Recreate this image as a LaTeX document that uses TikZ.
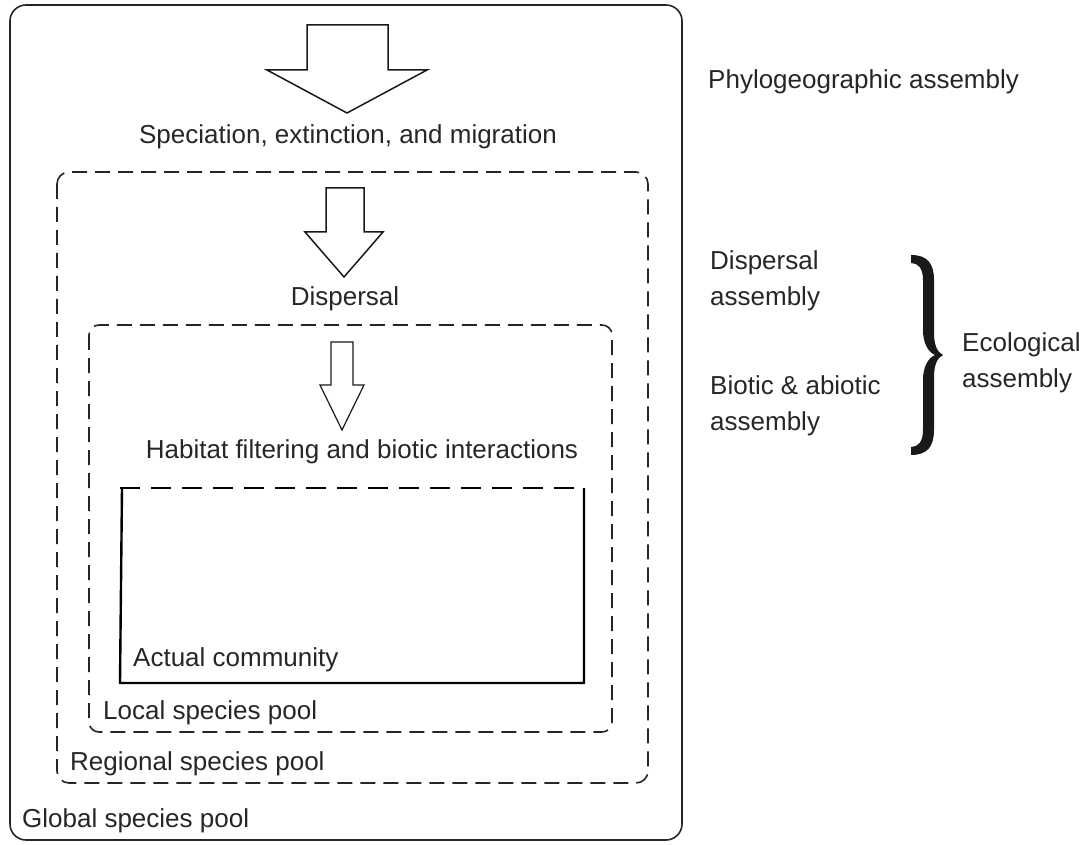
\documentclass[tikz,border=0pt]{standalone}
\usepackage{fontspec}
\setmainfont{Liberation Sans}
\begin{document}
\begin{tikzpicture}[x=1pt,y=-1pt,
  lbl/.style={inner sep=0pt,font=\fontsize{26}{36}\selectfont,text=black!85},
  lblc/.style={lbl,anchor=base},
  lblw/.style={lbl,anchor=base west},
  lbls/.style={lbl,align=left,anchor=north west},
  pool/.style={line width=1.6pt,rounded corners=12pt,draw=black!85},
  dpool/.style={pool,dash pattern=on 15pt off 8pt},
  bigarrow/.style={line width=1.5pt,line join=miter,fill=white,draw=black!90},
  bracefill/.style={fill=black!90,draw=none}]
\useasboundingbox (0,0) rectangle (1088,845);
% pools
\draw[pool,rounded corners=16pt] (10,5) rectangle (682,840);
\draw[dpool] (57,172) rectangle (648,783);
\draw[dpool,rounded corners=10pt] (89,325) rectangle (612,732);
\draw[line width=2.4pt,dash pattern=on 20pt off 11pt] (120,488) -- (584,488);
\draw[line width=2.4pt,line join=miter] (122,488) -- (120,683) -- (584,683) -- (584,488);
% arrows
\draw[bigarrow] (307,25) -- (388,25) -- (388,70) -- (427,70) -- (347,113) -- (267,70) -- (307,70) -- cycle;
\draw[bigarrow] (326,188) -- (364,188) -- (364,232) -- (383,232) -- (344,277) -- (305,232) -- (326,232) -- cycle;
\draw[bigarrow,line width=1.2pt] (331,342) -- (353,342) -- (353,385) -- (364,385) -- (342,430) -- (320,385) -- (331,385) -- cycle;
% texts
\node[lblc] (spec) at (348,144) {Speciation, extinction, and migration};
\node[lblc] (disp) at (345,306) {Dispersal};
\node[lblc] (hab) at (362,458) {Habitat filtering and biotic interactions};
\node[lblw] (act) at (133,666) {Actual community};
\node[lblw] (loc) at (103,719) {Local species pool};
\node[lblw] (reg) at (70,770) {Regional species pool};
\node[lblw] (glob) at (22,827) {Global species pool};
\node[lblw] (phylo) at (708,89) {Phylogeographic assembly};
\node[lbls] (dispa) at (710,250) {Dispersal\\assembly};
\node[lbls] (bio) at (710,375) {Biotic \& abiotic\\assembly};
\node[lbls] (eco) at (962,332) {Ecological\\assembly};
% brace
\fill[bracefill] (911,255) .. controls (927,255) and (934,263) .. (934,280)
  -- (934,332) .. controls (934,345) and (937,352) .. (943,355)
  .. controls (937,358) and (934,365) .. (934,378)
  -- (934,430) .. controls (934,447) and (927,455) .. (911,455)
  -- (911,447) .. controls (918,447) and (923,442) .. (923,430)
  -- (923,380) .. controls (923,367) and (928,358) .. (935,355)
  .. controls (928,352) and (923,343) .. (923,330)
  -- (923,280) .. controls (923,268) and (918,263) .. (911,263)
  -- cycle;
\end{tikzpicture}
\end{document}
